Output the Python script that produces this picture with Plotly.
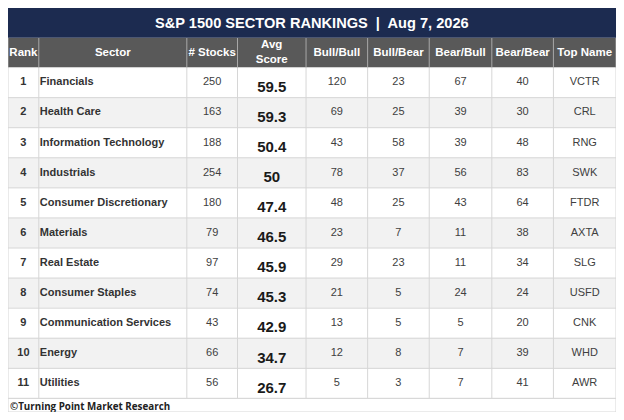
import plotly.graph_objects as go

# the page puts an 8px body margin round the plot, so the figure is 16px smaller
W, H = 608, 404

title = "S&P 1500 SECTOR RANKINGS  |  Aug 7, 2026"
headers = ["Rank", "Sector", "# Stocks", "Avg<br>Score", "Bull/Bull", "Bull/Bear",
           "Bear/Bull", "Bear/Bear", "Top Name"]

rank = list(range(1, 12))
sector = ["Financials", "Health Care", "Information Technology", "Industrials",
          "Consumer Discretionary", "Materials", "Real Estate", "Consumer Staples",
          "Communication Services", "Energy", "Utilities"]
n_stocks = [250, 163, 188, 254, 180, 79, 97, 74, 43, 66, 56]
avg_score = ["59.5", "59.3", "50.4", "50", "47.4", "46.5", "45.9", "45.3", "42.9", "34.7", "26.7"]
bull_bull = [120, 69, 43, 78, 48, 23, 29, 21, 13, 12, 5]
bull_bear = [23, 25, 58, 37, 25, 7, 23, 5, 5, 8, 3]
bear_bull = [67, 39, 39, 56, 43, 11, 11, 24, 5, 7, 7]
bear_bear = [40, 30, 48, 83, 64, 38, 34, 24, 20, 39, 41]
top_name = ["VCTR", "CRL", "RNG", "SWK", "FTDR", "AXTA", "SLG", "USFD", "CNK", "WHD", "AWR"]

footer = "©Turning Point Market Research"

# layout measured on the reference picture (pixels)
col_edges_px = [6, 37, 186, 237, 306, 368, 430, 493, 555, 618]
title_top, header_top, body_top, row_h = 8, 38, 68, 30.3
footer_bottom = 415

sx = W / (col_edges_px[-1] - col_edges_px[0])
sy = H / (footer_bottom - title_top)


def X(px):
    return (px - col_edges_px[0]) * sx


def Y(py):
    return (py - title_top) * sy


n_rows = len(rank)
n_cols = len(headers)
x_edges = [X(e) for e in col_edges_px]
y_edges = [Y(header_top)] + [Y(body_top + i * row_h) for i in range(n_rows + 1)]
x_mid = [(x_edges[j] + x_edges[j + 1]) / 2 for j in range(n_cols)]
y_mid = [(y_edges[i + 1] + y_edges[i + 2]) / 2 for i in range(n_rows)]
body_bottom = y_edges[-1]

# 2 = header, 0 / 1 = white / grey body rows
z = [[2] * n_cols] + [[i % 2] * n_cols for i in range(n_rows)]

fig = go.Figure()
fig.add_trace(go.Heatmap(
    x=x_edges, y=y_edges, z=z, zmin=0, zmax=2,
    colorscale=[[0, "#ffffff"], [0.5, "#f2f2f2"], [1, "#595959"]],
    showscale=False, hoverinfo="skip",
))

# header labels
fig.add_trace(go.Scatter(
    x=x_mid, y=[(y_edges[0] + y_edges[1]) / 2] * n_cols, mode="text",
    text=[f"<b>{h}</b>" for h in headers], hoverinfo="skip",
    textfont=dict(family="Liberation Sans", size=11.5, color="#ffffff"),
))

body_font = dict(family="Liberation Sans", size=11, color="#404040")
plain_cols = [(2, n_stocks), (4, bull_bull), (5, bull_bear), (6, bear_bull),
              (7, bear_bear), (8, top_name)]
for j, vals in plain_cols:
    fig.add_trace(go.Scatter(
        x=[x_mid[j]] * n_rows, y=y_mid, mode="text", text=[str(v) for v in vals],
        textfont=body_font, hoverinfo="skip",
    ))

fig.add_trace(go.Scatter(
    x=[x_mid[0]] * n_rows, y=y_mid, mode="text", text=[f"<b>{r}</b>" for r in rank],
    textfont=dict(family="Liberation Sans", size=11, color="#333333"), hoverinfo="skip",
))
fig.add_trace(go.Scatter(
    x=[x_edges[1] + 1] * n_rows, y=y_mid, mode="text", textposition="middle right",
    text=[f"<b>{s}</b>" for s in sector],
    textfont=dict(family="Liberation Sans", size=11, color="#333333"), hoverinfo="skip",
))
fig.add_trace(go.Scatter(
    x=[x_mid[3]] * n_rows, y=[v + 5.5 * sy for v in y_mid], mode="text",
    text=[f"<b>{a}</b>" for a in avg_score],
    textfont=dict(family="Liberation Sans", size=15, color="#1a1a1a"), hoverinfo="skip",
))

# cell borders
grid = dict(color="#d6d6d6", width=1)
for yy in y_edges[1:]:
    fig.add_shape(type="line", x0=x_edges[0], x1=x_edges[-1], y0=yy, y1=yy, line=grid)
for xx in x_edges:
    fig.add_shape(type="line", x0=xx, x1=xx, y0=y_edges[1], y1=body_bottom, line=grid)
    fig.add_shape(type="line", x0=xx, x1=xx, y0=y_edges[0], y1=y_edges[1],
                  line=dict(color="#a8a8a8", width=1))

# title bar
fig.add_shape(type="rect", x0=x_edges[0], x1=x_edges[-1], y0=Y(title_top), y1=y_edges[0],
              fillcolor="#1c2b50", line=dict(width=0))
fig.add_annotation(x=(x_edges[0] + x_edges[-1]) / 2, y=(Y(title_top) + y_edges[0]) / 2,
                   text=f"<b>{title}</b>", showarrow=False,
                   font=dict(family="Liberation Sans", size=14.6, color="#ffffff"))

# footer
fig.add_shape(type="rect", x0=x_edges[0], x1=x_edges[-1], y0=body_bottom, y1=Y(footer_bottom),
              fillcolor="#ffffff", line=grid)
fig.add_annotation(x=x_edges[0], y=(body_bottom + Y(footer_bottom)) / 2 + 1, xanchor="left",
                   text=f"<b>{footer}</b>", showarrow=False,
                   font=dict(family="Open Sans", size=9.8, color="#222222"))

fig.update_xaxes(range=[0, W], visible=False, fixedrange=True)
fig.update_yaxes(range=[H, 0], visible=False, fixedrange=True)
fig.update_layout(width=W, height=H, margin=dict(l=0, r=0, t=0, b=0),
                  paper_bgcolor="white", plot_bgcolor="white", showlegend=False)

fig.write_html("out.html")
